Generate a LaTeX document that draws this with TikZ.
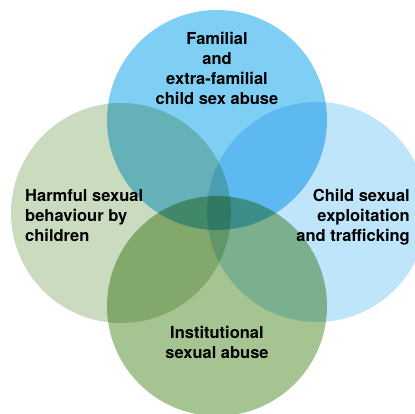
\documentclass[tikz,border=0pt]{standalone}
\usepackage{fontspec}
\setmainfont{TeX Gyre Heros}
\definecolor{famblue}{HTML}{7FCFF5}
\definecolor{cseblue}{HTML}{BEE5FA}
\definecolor{hsbgreen}{HTML}{CADBBF}
\definecolor{instgreen}{HTML}{A5C491}
\begin{document}
\begin{tikzpicture}[x=1pt, y=-1pt,
  area/.style={circle, minimum size=220pt, inner sep=0pt},
  lbl/.style={font=\fontsize{16.5}{20}\selectfont\bfseries, inner sep=0pt}
]
\useasboundingbox (0,0) rectangle (415,414);
% the four overlapping areas, mixed by multiplying
\begin{scope}[blend group=multiply]
\node[area, fill=famblue] (fam) at (217,120) {};
\node[area, fill=hsbgreen] (hsb) at (121,213) {};
\node[area, fill=cseblue] (cse) at (317,212) {};
\node[area, fill=instgreen] (inst) at (217,306) {};
\end{scope}
% labels
\node[lbl, align=center, anchor=north] (famtxt) at (217,32) {Familial\\and\\extra-familial\\child sex abuse};
\node[lbl, align=left, anchor=north west] (hsbtxt) at (25,189) {Harmful sexual\\behaviour by\\children};
\node[lbl, align=right, anchor=north east] (csetxt) at (410,189) {Child sexual\\exploitation\\and trafficking};
\node[lbl, align=center, anchor=north] (insttxt) at (217,326) {Institutional\\sexual abuse};
\end{tikzpicture}
\end{document}
